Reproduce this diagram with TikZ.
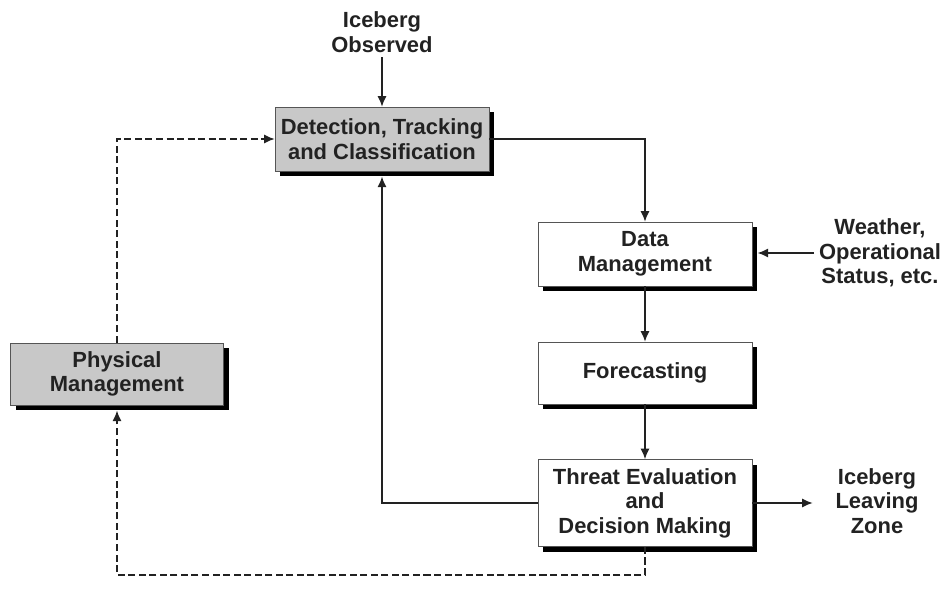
\documentclass[tikz,border=0pt]{standalone}
\usepackage{fontspec}
\setmainfont{Liberation Sans}
\usetikzlibrary{shadows,arrows.meta}
\definecolor{boxgray}{HTML}{C8C8C8}
\definecolor{inkcol}{HTML}{222222}
\definecolor{edgecol}{HTML}{555555}

\begin{document}
\begin{tikzpicture}[x=0.025cm, y=-0.025cm,
        every node/.style={font=\fontsize{15.6}{17.5}\selectfont\bfseries, text=inkcol, align=center},
        flowbox/.style={draw=edgecol, fill=white, line width=0.6pt, minimum width=5.35cm, minimum height=1.6cm, inner sep=0pt,
            drop shadow={shadow xshift=0.13cm, shadow yshift=-0.13cm, fill=black, opacity=1}},
        graybox/.style={flowbox, fill=boxgray},
        arrow/.style={-{Latex[length=7.5pt,width=6.5pt]}, line width=0.9pt, color=inkcol},
        dasharrow/.style={arrow, dash pattern=on 5pt off 2.5pt}]

        \useasboundingbox (0,0) rectangle (943,605);

        \node[graybox] (detect) at (382, 139) {Detection, Tracking\\and Classification};
        \node[flowbox] (datamg) at (645, 254) {Data\\Management};
        \node[flowbox, minimum height=1.55cm] (forecast) at (645, 373) {Forecasting};
        \node[flowbox, minimum height=2.175cm] (threat) at (645, 503) {Threat Evaluation\\and\\Decision Making};
        \node[graybox, minimum width=5.325cm, minimum height=1.55cm] (phys) at (117, 374) {Physical\\Management};

        \node (observed) at (382, 32) {Iceberg\\Observed};
        \node (weather) at (880, 253) {Weather,\\Operational\\Status, etc.};
        \node (leaving) at (877, 501) {Iceberg\\Leaving\\Zone};

        \draw[arrow] (observed.south) -- (detect.north);
        \draw[arrow] (detect.east) -| (datamg.north);
        \draw[arrow] (datamg.south) -- (forecast.north);
        \draw[arrow] (forecast.south) -- (threat.north);
        \draw[arrow] (weather.west) -- ([xshift=0.13cm]weather.west -| datamg.east);
        \draw[arrow, shorten >=0.45cm] (threat.east) -- (threat.east -| leaving.west);
        \draw[arrow] (threat.west) -| ([yshift=-0.13cm]detect.south);
        \draw[dasharrow] (threat.south) -- (threat.south |- 0,575) -| ([yshift=-0.13cm]phys.south);
        \draw[dasharrow] (phys.north) |- (detect.west);
      \end{tikzpicture}
\end{document}
